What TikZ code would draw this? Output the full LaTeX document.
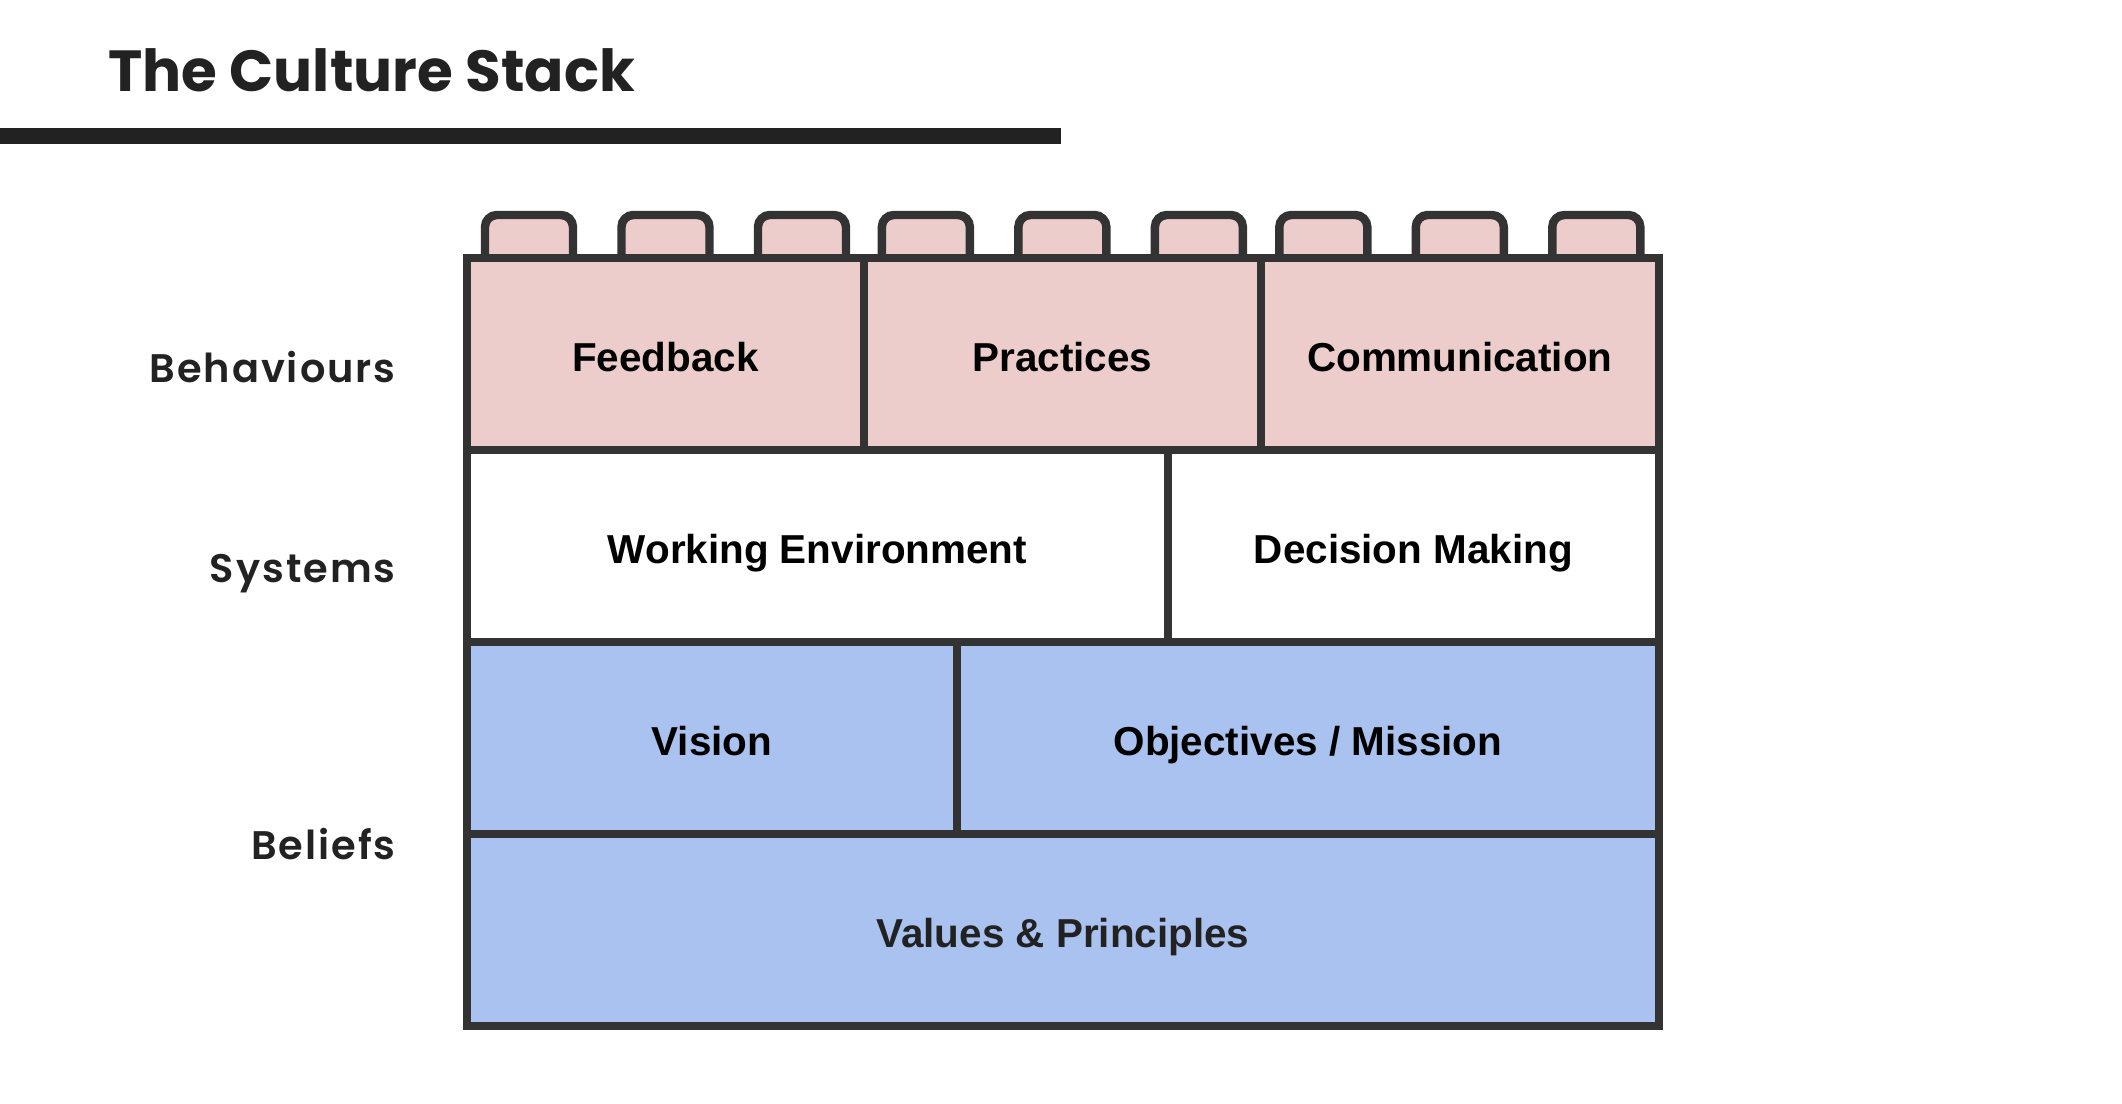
\documentclass[tikz,border=0pt]{standalone}
\usepackage{fontspec}
\setmainfont{Liberation Sans}
\newfontfamily\headfont{Poppins}
\newfontfamily\layerfont{Poppins SemiBold}[LetterSpace=5]
\usetikzlibrary{positioning,calc,backgrounds}

\definecolor{ink}{HTML}{333333}
\definecolor{headgray}{HTML}{222222}
\definecolor{behpink}{HTML}{EDCDCC}
\definecolor{belblue}{HTML}{AAC2EF}
\newcommand\cellfont{\fontsize{23}{28}\selectfont\bfseries}

\begin{document}
\begin{tikzpicture}[
        x=0.02cm, y=-0.02cm,
        cell/.style={draw=ink, line width=4.8pt, inner sep=0pt, outer sep=0pt, minimum height=3.84cm,
          text height=19.5pt, text depth=0pt, align=center, font=\cellfont},
        beh/.style={cell, fill=behpink},
        sys/.style={cell, fill=white},
        bel/.style={cell, fill=belblue},
        stud/.style={draw=ink, line width=4.8pt, fill=behpink, rounded corners=0.24cm},
        layer/.style={anchor=base east, inner sep=0pt, text=headgray, font=\layerfont\fontsize{22.7}{27}\selectfont}
      ]
      \useasboundingbox (0,0) rectangle (2122,1104);

      % Title
      \node[anchor=base west, inner sep=0pt, text=headgray, font=\headfont\bfseries\fontsize{33}{39}\selectfont] (title) at (108,92) {The Culture Stack};
      \draw[line width=9pt, headgray] (0,136) -- (1061,136);

      % Behaviours
      \node[beh, minimum width=7.94cm, anchor=north west] (fb) at (467,258) {Feedback};
      \node[beh, minimum width=7.94cm, right=0pt of fb] (pr) {Practices};
      \node[beh, minimum width=7.96cm, right=0pt of pr] (co) {Communication};

      % Systems
      \node[sys, minimum width=14.02cm, below=0pt of fb.south west, anchor=north west] (we) {Working Environment};
      \node[sys, minimum width=9.82cm, right=0pt of we] (dm) {Decision Making};

      % Beliefs
      \node[bel, minimum width=9.8cm, below=0pt of we.south west, anchor=north west] (vi) {Vision};
      \node[bel, minimum width=14.04cm, right=0pt of vi] (om) {Objectives / Mission};
      \node[bel, minimum width=23.84cm, below=0pt of vi.south west, anchor=north west, text=headgray] (vp) {Values \& Principles};

      % Studs on top
      \begin{scope}[on background layer]
        \foreach \b in {fb,pr,co}
          \foreach \o in {-136.5,0,136.5}
            \draw[stud] ($(\b.north)+(\o-44,0)$) -- ++(0,-43) -- ++(88,0) -- ++(0,43);
      \end{scope}

      % Layer labels
      \node[layer] (lbeh) at (396,383) {Behaviours};
      \node[layer] (lsys) at (396,582) {Systems};
      \node[layer] (lbel) at (396,859) {Beliefs};

\end{tikzpicture}
\end{document}
